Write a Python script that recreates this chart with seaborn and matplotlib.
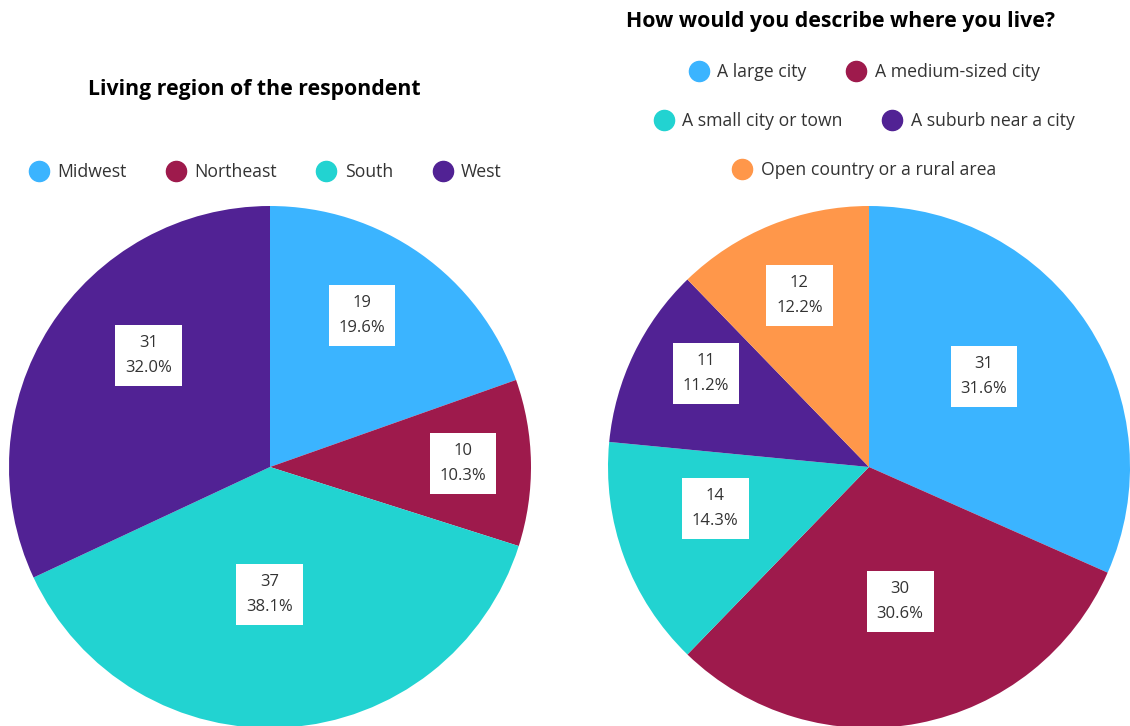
import numpy as np
import matplotlib
matplotlib.use("Agg")
import matplotlib.pyplot as plt
from matplotlib.lines import Line2D
import seaborn as sns

# Survey data
region_labels = ["Midwest", "Northeast", "South", "West"]
region_counts = [19, 10, 37, 31]
region_pcts = [19.6, 10.3, 38.1, 32.0]

place_labels = ["A large city", "A medium-sized city", "A small city or town",
                "A suburb near a city", "Open country or a rural area"]
place_counts = [31, 30, 14, 11, 12]
place_pcts = [31.6, 30.6, 14.3, 11.2, 12.2]

region_colors = ["#3BB4FF", "#9E1A4C", "#22D3D1", "#512294"]
place_colors = ["#3BB4FF", "#9E1A4C", "#22D3D1", "#512294", "#FF974A"]

# label placement inside the wedges (fraction of radius, angle nudge in degrees)
region_label_r = [0.68, 0.74, 0.49, 0.63]
region_label_nudge = [4, 0, -4, -10]
place_label_r = [0.56, 0.53, 0.61, 0.72, 0.71]
place_label_nudge = [5, 2, -5, -4, 0]

sns.set_theme(style="white")
plt.rcParams["font.family"] = ["Open Sans", "DejaVu Sans"]

W, H = 1130, 726
fig = plt.figure(figsize=(W / 100, H / 100), dpi=100)


def px_axes(cx, cy, r):
    return fig.add_axes([(cx - r) / W, (H - cy - r) / H, 2 * r / W, 2 * r / H])


def draw_pie(ax, counts, pcts, colors, lab_r, nudge):
    wedges, _ = ax.pie(counts, colors=colors, startangle=90, counterclock=False,
                       radius=1.0, wedgeprops=dict(linewidth=0))
    for w, c, p, rr, dn in zip(wedges, counts, pcts, lab_r, nudge):
        mid = np.deg2rad((w.theta1 + w.theta2) / 2 + dn)
        ax.text(rr * np.cos(mid), rr * np.sin(mid), f"{c}\n{p:.1f}%",
                ha="center", va="center", fontsize=12, color="#333333",
                linespacing=1.75,
                bbox=dict(boxstyle="square,pad=0.6", fc="white", ec="none"))
    ax.set_xlim(-1, 1)
    ax.set_ylim(-1, 1)
    ax.set_aspect("equal")
    ax.axis("off")


ax1 = px_axes(270, 467, 261)
draw_pie(ax1, region_counts, region_pcts, region_colors, region_label_r, region_label_nudge)
ax2 = px_axes(869, 467, 261)
draw_pie(ax2, place_counts, place_pcts, place_colors, place_label_r, place_label_nudge)

# titles
fig.text(254 / W, 1 - 90 / H, "Living region of the respondent", ha="center", va="center",
         fontsize=15.3, fontweight="bold", color="black")
fig.text(841 / W, 1 - 22 / H, "How would you describe where you live?", ha="center", va="center",
         fontsize=15.3, fontweight="bold", color="black")


def handles(labels, colors):
    return [Line2D([], [], marker="o", linestyle="none", markersize=14.5,
                   markerfacecolor=c, markeredgecolor=c, label=l)
            for l, c in zip(labels, colors)]


def row_legend(labels, colors, cx, cy, spacing):
    leg = fig.legend(handles=handles(labels, colors), loc="center",
                     bbox_to_anchor=(cx / W, 1 - cy / H), ncol=len(labels),
                     frameon=False, fontsize=12.7, handletextpad=0.45,
                     columnspacing=spacing, handlelength=1.2, borderpad=0)
    for t in leg.get_texts():
        t.set_color("#333333")
    return leg


row_legend(region_labels, region_colors, 265, 172, 2.2)
row_legend(place_labels[0:2], place_colors[0:2], 864, 72, 2.2)
row_legend(place_labels[2:4], place_colors[2:4], 864, 121, 2.2)
row_legend(place_labels[4:5], place_colors[4:5], 864, 170, 2.2)

fig.savefig("out.png", dpi=100, facecolor="white")
